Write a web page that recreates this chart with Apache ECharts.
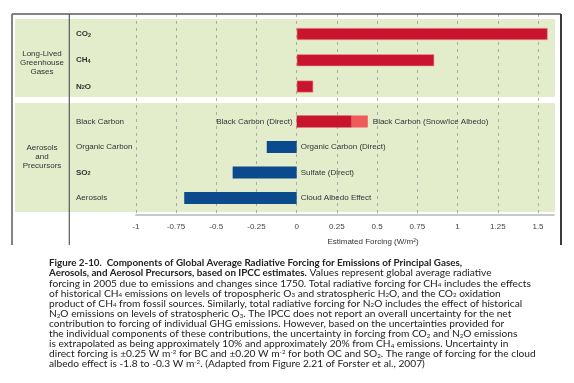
<!DOCTYPE html>
<html><head><meta charset="utf-8">
<script src="https://cdn.jsdelivr.net/npm/echarts@6/dist/echarts.min.js"></script>
<style>html,body{margin:0;padding:0;background:#fff}#c{width:574px;height:383px}</style>
</head><body><div id="c"></div>
<script>
// ---- data ----
const ghgCategories = ['CO2', 'CH4', 'N2O'];
const ghgValues = [1.56, 0.855, 0.103];
const aerosolCategories = ['Black Carbon', 'Organic Carbon', 'SO2', 'Aerosols'];
const directValues = [0.342, -0.186, -0.398, -0.699];
const snowIceValues = [0.1, null, null, null];
const directLabels = ['Black Carbon (Direct)', 'Organic Carbon (Direct)', 'Sulfate (Direct)', 'Cloud Albedo Effect'];
const snowIceLabel = 'Black Carbon (Snow/Ice Albedo)';
const groupLabels = ['Long-Lived\nGreenhouse\nGases', 'Aerosols\nand\nPrecursors'];
const axisTitle = 'Estimated Forcing (W/m{p|2})';
const xMin = -1, xMax = 1.6, xStep = 0.25;
const captionLines = [
 '{b|Figure 2-10.  Components of Global Average Radiative Forcing for Emissions of Principal Gases,}',
 '{b|Aerosols, and Aerosol Precursors, based on IPCC estimates.} Values represent global average radiative',
 'forcing in 2005 due to emissions and changes since 1750. Total radiative forcing for CH{s|4} includes the effects',
 'of historical CH{s|4} emissions on levels of tropospheric O{s|3} and stratospheric H{s|2}O, and the CO{s|2} oxidation',
 'product of CH{s|4} from fossil sources. Similarly, total radiative forcing for N{s|2}O includes the effect of historical',
 'N{s|2}O emissions on levels of stratospheric O{s|3}. The IPCC does not report an overall uncertainty for the net',
 'contribution to forcing of individual GHG emissions. However, based on the uncertainties provided for',
 'the individual components of these contributions, the uncertainty in forcing from CO{s|2} and N{s|2}O emissions',
 'is extrapolated as being approximately 10% and approximately 20% from CH{s|4} emissions. Uncertainty in',
 'direct forcing is \u00b10.25 W m{p|-2} for BC and \u00b10.20 W m{p|-2} for both OC and SO{s|2}. The range of forcing for the cloud',
 'albedo effect is -1.8 to -0.3 W m{p|-2}. (Adapted from Figure 2.21 of Forster et al., 2007)'
];

// ---- styles ----
const RED = '#c8142c', LIGHTRED = '#ef5b5b', BLUE = '#0b4a8c', PANEL = '#e3eccb';
const FONT = 'Liberation Sans';
const TXT = '#333';
const subFmt = s => /\d/.test(s) ? s.replace(/([A-Za-z]+)|(\d)/g, (m, a, d) => a ? '{h|' + a + '}' : '{s|' + d + '}') : s;
const labelRich = {
  h: { fontSize: 8, fontFamily: FONT, color: TXT, fontWeight: 'bold' },
  s: { fontSize: 5.5, fontFamily: FONT, color: TXT, verticalAlign: 'bottom', lineHeight: 6, fontWeight: 'bold' }
};

const chart = echarts.init(document.getElementById('c'), null, { renderer: 'canvas' });
const gridL = 135.8, gridR = 19.9;
const hiddenX = i => ({ type: 'value', gridIndex: i, min: xMin, max: xMax, interval: xStep, show: false });
const txtLabel = { fontSize: 8, fontFamily: FONT, color: TXT, textBorderWidth: 0 };

const option = {
  animation: false,
  backgroundColor: '#fff',
  grid: [
    { left: gridL, right: gridR, top: 14, bottom: 168 },
    { left: gridL, right: gridR, top: 20.9, height: 78.75 },
    { left: gridL, right: gridR, top: 108.75, height: 102 }
  ],
  xAxis: [
    { type: 'value', gridIndex: 0, min: xMin, max: xMax, interval: xStep,
      axisLine: { show: true, lineStyle: { color: '#b8b8b8', width: 1.5 } },
      axisTick: { show: false },
      axisLabel: { showMaxLabel: false, margin: 8, fontSize: 8, fontFamily: FONT, color: '#444' },
      splitLine: { show: true, showMaxLine: false, lineStyle: { color: '#9a9a9a', type: [3, 4], width: 0.8 } } },
    hiddenX(1), hiddenX(2)
  ],
  yAxis: [
    { type: 'value', gridIndex: 0, show: false },
    { type: 'category', gridIndex: 1, data: ghgCategories, inverse: true,
      axisLine: { show: false }, axisTick: { show: false },
      axisLabel: { align: 'left', margin: gridL - 76, fontSize: 8, fontFamily: FONT, color: TXT,
        formatter: v => subFmt(v), rich: labelRich } },
    { type: 'category', gridIndex: 2, data: aerosolCategories, inverse: true,
      axisLine: { show: false }, axisTick: { show: false },
      axisLabel: { align: 'left', margin: gridL - 76, fontSize: 8, fontFamily: FONT, color: TXT,
        formatter: v => subFmt(v), rich: labelRich } }
  ],
  series: [
    { type: 'bar', xAxisIndex: 1, yAxisIndex: 1, data: ghgValues, barWidth: 12,
      itemStyle: { color: RED, borderColor: '#ea9a9a', borderWidth: 0.6 } },
    { type: 'bar', xAxisIndex: 2, yAxisIndex: 2, data: directValues, barWidth: 12, stack: 'a', barGap: '-100%',
      itemStyle: { color: p => p.value >= 0 ? RED : BLUE } },
    { type: 'bar', xAxisIndex: 2, yAxisIndex: 2, data: snowIceValues, barWidth: 12, stack: 'a', barGap: '-100%',
      itemStyle: { color: LIGHTRED },
      label: Object.assign({ show: true, position: 'right', distance: 5, formatter: () => snowIceLabel }, txtLabel) },
    { type: 'bar', xAxisIndex: 2, yAxisIndex: 2, barWidth: 12, barGap: '-100%', silent: true, z: 5,
      itemStyle: { color: 'rgba(0,0,0,0)' },
      data: aerosolCategories.map((c, i) => ({ value: 0, name: directLabels[i],
        label: { position: directValues[i] >= 0 ? 'left' : 'right' } })),
      label: Object.assign({ show: true, distance: 4, formatter: p => directLabels[p.dataIndex] }, txtLabel) }
  ],
  graphic: [
    { type: 'rect', z: -10, shape: { x: 15, y: 19, width: 540, height: 78 }, style: { fill: PANEL } },
    { type: 'rect', z: -10, shape: { x: 15, y: 103, width: 540, height: 109 }, style: { fill: PANEL } },
    { type: 'line', z: 50, shape: { x1: 12, y1: 14, x2: 561, y2: 14 }, style: { stroke: '#5a5a5a', lineWidth: 1.5 } },
    { type: 'line', z: 50, shape: { x1: 12, y1: 14, x2: 12, y2: 245 }, style: { stroke: '#5a5a5a', lineWidth: 1.5 } },
    { type: 'line', z: 50, shape: { x1: 69.3, y1: 14, x2: 69.3, y2: 245 }, style: { stroke: '#5a5a5a', lineWidth: 1.2 } },
    { type: 'line', z: 50, shape: { x1: 561, y1: 14, x2: 561, y2: 245 }, style: { stroke: '#3a3a3a', lineWidth: 2 } },
    { type: 'text', z: 50, x: 42, y: 63, style: { text: groupLabels[0], fontSize: 8, fontFamily: FONT, fill: TXT,
      align: 'center', verticalAlign: 'middle', lineHeight: 8.8 } },
    { type: 'text', z: 50, x: 42, y: 156.7, style: { text: groupLabels[1], fontSize: 8, fontFamily: FONT, fill: TXT,
      align: 'center', verticalAlign: 'middle', lineHeight: 9 } },
    { type: 'text', z: 50, x: 373, y: 242, style: { text: axisTitle, fontSize: 8, fontFamily: FONT, fill: TXT,
      align: 'center', verticalAlign: 'middle',
      rich: { p: { fontSize: 5, fontFamily: FONT, fill: TXT, verticalAlign: 'top', lineHeight: 5 } } } },
    { type: 'text', z: 50, x: 49, y: 258, style: { text: captionLines.join('\n'), fontSize: 10.2, fontFamily: 'Lato',
      fill: '#222', lineHeight: 10.1, verticalAlign: 'top',
      rich: {
        b: { fontSize: 9.8, fontFamily: 'Lato', fontWeight: 'bold', fill: '#222', lineHeight: 10.1 },
        s: { fontSize: 6.2, fontFamily: 'Lato', fill: '#222', verticalAlign: 'bottom', lineHeight: 5 },
        p: { fontSize: 6.2, fontFamily: 'Lato', fill: '#222', verticalAlign: 'top', lineHeight: 5 }
      } } }
  ]
};
chart.setOption(option);
</script></body></html>
